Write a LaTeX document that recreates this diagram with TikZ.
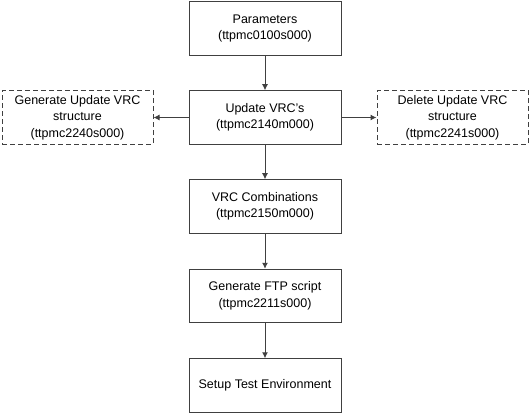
\documentclass[tikz,border=0pt]{standalone}
\usepackage{fontspec}
\setmainfont{Liberation Sans}
\usetikzlibrary{arrows.meta}
\definecolor{lc}{HTML}{404040}
\tikzset{
  box/.style={draw=lc, line width=1pt, minimum width=152pt, minimum height=53.5pt, align=center, inner sep=0pt, font=\fontsize{12.5}{16.5}\selectfont},
  dbox/.style={box, dashed, dash pattern=on 5pt off 3pt, minimum width=151pt},
  conn/.style={draw=lc, line width=1pt, -{Latex[length=6pt,width=6pt]}}
}
\begin{document}
\begin{tikzpicture}[x=1pt,y=-1pt]
\useasboundingbox (0,0) rectangle (530,414);
\node[box] (p) at (265,28.5) {Parameters\\(ttpmc0100s000)};
\node[box] (u) at (265,117.5) {Update VRC\char"0027 s\\(ttpmc2140m000)};
\node[box] (v) at (265,206.5) {VRC Combinations\\(ttpmc2150m000)};
\node[box] (f) at (265,296) {Generate FTP script\\(ttpmc2211s000)};
\node[box] (s) at (265,385.5) {Setup Test Environment};
\node[dbox] (g) at (77.5,117.5) {Generate Update VRC\\structure\\(ttpmc2240s000)};
\node[dbox] (d) at (452.5,117.5) {Delete Update VRC\\structure\\(ttpmc2241s000)};
\draw[conn] (p) -- (u);
\draw[conn] (u) -- (v);
\draw[conn] (v) -- (f);
\draw[conn] (f) -- (s);
\draw[conn] (u) -- (g);
\draw[conn] (u) -- (d);
\end{tikzpicture}
\end{document}
